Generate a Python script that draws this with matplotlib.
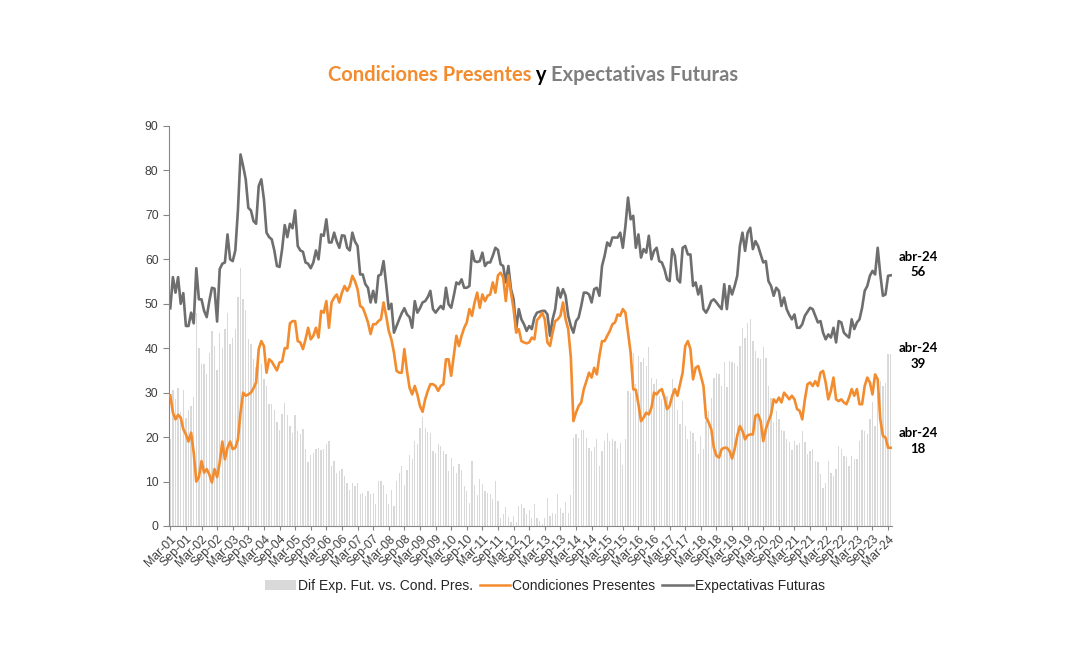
import matplotlib
matplotlib.use('Agg')
import matplotlib.pyplot as plt
import numpy as np
import pandas as pd
from matplotlib.patches import Patch
from matplotlib.lines import Line2D

plt.rcParams['font.family'] = ['Liberation Sans', 'DejaVu Sans']

# ----- Data (monthly, Mar-2001 .. Apr-2024) ----- #
start_month = '2001-03'

expectativas = [
    49, 56, 52.5, 56, 50, 52.4, 45, 45, 48, 45.6, 58, 51, 51, 48.4, 47, 50.6, 53.6, 53.4, 46, 57.8,
    59, 59.3, 65.6, 60, 59.6, 62, 71, 83.6, 81, 78, 71.6, 71, 68.6, 68, 76.5, 78, 73.5, 66, 65, 64.5,
    62, 58.5, 58.3, 62.3, 67.7, 65, 68, 67, 71, 63, 62, 61.7, 59.3, 59, 58, 59.3, 62, 60, 65.6, 65.3,
    69, 63.8, 63.8, 66, 64, 62.6, 65.4, 65.3, 62.6, 62, 66, 64, 63, 56.6, 56.6, 54.4, 53.6, 50.3, 52.9, 50.3,
    56.3, 56.6, 59.6, 54.4, 48.8, 50, 43.5, 45, 46.5, 47.9, 49, 47.6, 47, 44.6, 50.6, 48, 49, 50.3, 50.6, 51.5,
    52.9, 48.8, 48, 48.8, 49.5, 48.8, 53.6, 49.9, 49.1, 51.8, 54.8, 54.4, 55.5, 53.6, 53.6, 54, 61.9, 59.6, 59.4, 59.6,
    61.5, 58.5, 59.3, 59.3, 60.8, 62.6, 62.1, 58.9, 58.5, 54.8, 58.5, 53.3, 51, 44.3, 48.8, 46.5, 45.4, 43.9, 45, 44.3,
    46.9, 48, 48.2, 48.4, 48.4, 47.6, 42.8, 46.5, 48.8, 53.6, 51.4, 53.3, 51.8, 47.3, 45, 43.5, 46.1, 46.9, 49.5, 52.5,
    52.5, 52.1, 50.3, 53.3, 53.6, 51.8, 58.5, 60.8, 63.8, 63, 64.9, 64.9, 64.9, 66, 62.6, 67.5, 73.9, 69, 69.8, 62.6,
    65.6, 60.4, 62.3, 61.5, 65.3, 60, 61.9, 62.6, 59.6, 59.3, 57.8, 55.5, 55.1, 62.3, 60.8, 55.5, 54.8, 62.6, 63, 61.1,
    61.1, 54, 54.8, 52.1, 54, 48.8, 48, 49.1, 50.6, 51, 50.3, 49.5, 48.8, 54.4, 48.8, 54, 52.1, 54, 56.3, 63,
    66, 61.9, 66, 67.1, 62.3, 64.1, 63, 61.1, 59.3, 59.6, 55.1, 54, 51.8, 53.6, 52.9, 49.5, 51.4, 48.8, 47.5, 46.5,
    47.6, 44.6, 44.6, 45.4, 47.3, 48.2, 49.1, 48.8, 47.3, 45.8, 46.1, 43.5, 42, 43.1, 42.4, 44.6, 41.3, 46.1, 45.8, 43.5,
    42.9, 42.4, 46.5, 44.3, 45.8, 46.5, 49.1, 52.9, 54, 56.3, 57.4, 56.6, 62.6, 56.6, 51.8, 52.1, 56.3, 56.4,
]

condiciones = [
    29.4, 25.5, 24, 25, 24.4, 21.8, 20.6, 19, 21, 16.5, 10, 11, 14.6, 12, 12.8, 11.6, 9.8, 12.8, 11, 14.3,
    19, 15, 17.6, 19, 17.3, 17.6, 19.5, 25.5, 30, 29.3, 29.6, 30, 31, 32.3, 39.8, 41.6, 40.5, 34.5, 37.5, 37,
    36, 35, 36.8, 37, 40, 40, 45.6, 46.1, 46.1, 41.6, 41.3, 39.8, 42, 44.6, 42, 42.8, 44.6, 42.4, 48.4, 48,
    50.6, 44.6, 50.3, 51.4, 52.1, 50.3, 52.5, 54, 52.9, 54, 56.3, 55.1, 53.3, 49.5, 49.1, 47.6, 45.8, 43.2, 45.4, 45.4,
    46.1, 46.5, 50.3, 47.3, 43.9, 42, 39, 34.9, 34.5, 34.5, 39.8, 34.9, 31.1, 29.6, 31.5, 29.6, 27, 25.7, 28.5, 30.4,
    31.9, 31.9, 31.5, 30.4, 31.5, 31.9, 37.5, 37.5, 33.8, 38.3, 42.8, 40.5, 42.8, 44.6, 45.8, 48.8, 47.3, 50.3, 52.5, 49.1,
    52.1, 50.6, 51.8, 52.1, 54.8, 52.5, 56.4, 57, 55.9, 50.6, 56.4, 52.5, 48.8, 43.5, 44.3, 41.6, 41.3, 41.1, 41.3, 42.4,
    42, 46.3, 47, 48, 46.5, 41.3, 40.5, 43.5, 46.1, 46.5, 47.3, 50.3, 46.5, 44.3, 38, 23.6, 25.5, 27, 27.8, 30.8,
    32.6, 34.5, 33.4, 35.6, 34.1, 38.3, 41.6, 41.6, 42.8, 43.9, 45.4, 45.8, 47.6, 47.3, 48.8, 48, 43.5, 39, 30.8, 30.6,
    27.4, 23.6, 24.4, 25.5, 25.1, 26.6, 30, 29.6, 30.4, 30.8, 28.9, 26.3, 27, 29.3, 30.8, 29.3, 31.9, 34.5, 40.5, 41.6,
    39.8, 33, 35.6, 36, 33.8, 31.5, 24.4, 23.3, 21.8, 17.6, 15.8, 15.4, 17.3, 17.6, 17.6, 16.9, 15.2, 17.3, 20.3, 22.5,
    21.4, 19.5, 20.4, 20.6, 20.6, 24.8, 25.1, 23.6, 19.1, 21.8, 23.6, 25.1, 28.5, 27.8, 28.9, 27.8, 30, 29.3, 28.5, 29.3,
    28.5, 26.3, 25.9, 24, 28.5, 31.9, 32.3, 31.5, 32.6, 31.5, 34.5, 34.9, 32.3, 28.5, 30.4, 33.4, 28.5, 28.1, 28.5, 27.8,
    27.4, 28.9, 30.8, 29.3, 30.8, 27.4, 27.4, 31.5, 33.4, 32.3, 29.6, 34.1, 33, 24, 20.3, 19.9, 17.6, 17.6,
]

last_label = 'abr-24'
title_parts = ['Condiciones Presentes', ' y ', 'Expectativas Futuras']
legend_labels = ['Dif Exp. Fut. vs. Cond. Pres.', 'Condiciones Presentes', 'Expectativas Futuras']

# ----- Derived ----- #
exp_arr = np.array(expectativas)
cond_arr = np.array(condiciones)
diferencia = exp_arr - cond_arr
months = pd.period_range(start_month, periods=len(exp_arr), freq='M')
x = np.arange(len(months))
tick_pos = x[::6]
tick_labels = [p.strftime('%b-%y') for p in months[::6]]

orange = '#F28C2E'
gray = '#6E6E6E'
bar_col = '#D9D9D9'

fig = plt.figure(figsize=(10.8, 6.66), dpi=100)
ax = fig.add_axes([169 / 1080, 1 - 526 / 666, 723 / 1080, 400 / 666])

ax.bar(x, diferencia, width=0.5, color=bar_col, zorder=1)
ax.plot(x, cond_arr, color=orange, lw=1.9, zorder=3)
ax.plot(x, exp_arr, color=gray, lw=1.9, zorder=2)

ax.set_xlim(-0.5, len(x) - 0.5)
ax.set_ylim(0, 90)
ax.set_yticks(range(0, 91, 10))
ax.set_xticks(tick_pos)
ax.set_xticklabels(tick_labels, rotation=45, ha='right', rotation_mode='anchor', fontsize=8.8, color='#404040')
ax.tick_params(axis='y', labelsize=8.8, labelcolor='#404040', length=4, color='#868686')
ax.tick_params(axis='x', length=3, color='#868686', pad=2)
for s in ['top', 'right']:
    ax.spines[s].set_visible(False)
for s in ['left', 'bottom']:
    ax.spines[s].set_color('#868686')
    ax.spines[s].set_linewidth(0.8)

# End-of-series annotations
ann_x = len(x) + 9.5
for val, ypos in [(exp_arr[-1], 58.8), (diferencia[-1], 38.3), (cond_arr[-1], 19.1)]:
    ax.text(ann_x, ypos, f'{last_label}\n{int(round(val))}', ha='center', va='center',
            fontsize=9.5, fontweight='bold', family='Lato', color='black',
            linespacing=1.35, clip_on=False)

# Legend
handles = [Patch(facecolor=bar_col, edgecolor='none'),
           Line2D([], [], color=orange, lw=1.8),
           Line2D([], [], color=gray, lw=1.8)]
fig.legend(handles, legend_labels, loc='center', bbox_to_anchor=(545 / 1080, 1 - 586 / 666),
           ncol=3, frameon=False, fontsize=10, handlelength=2.2, handletextpad=0.15,
           columnspacing=0.5, labelcolor='#262626')

# Multi-colour title
fig.canvas.draw()
r = fig.canvas.get_renderer()
cols = [orange, 'black', '#7F7F7F']
texts = [fig.text(0, 1 - 75 / 666, s, color=c, fontsize=14.5, fontweight='bold', family='Lato', va='center')
         for s, c in zip(title_parts, cols)]
widths = [t.get_window_extent(r).width for t in texts]
xp = 533 - sum(widths) / 2
for t, w in zip(texts, widths):
    t.set_x(xp / 1080)
    xp += w

fig.savefig('out.png', dpi=100)
